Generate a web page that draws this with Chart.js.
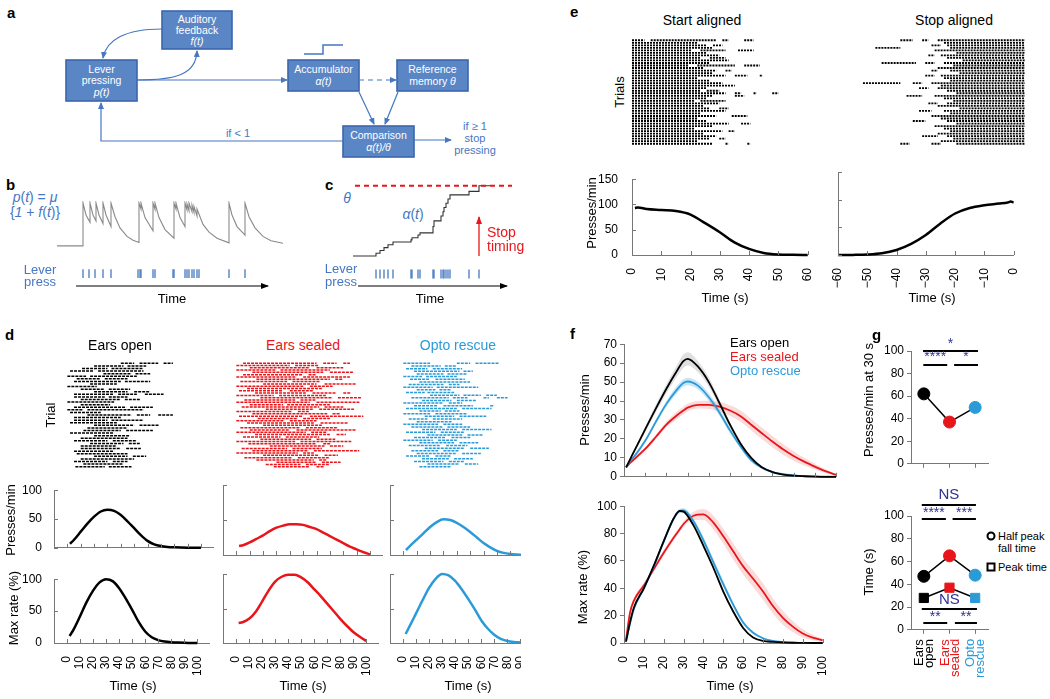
<!DOCTYPE html>
<html><head><meta charset="utf-8">
<script src="https://cdn.jsdelivr.net/npm/chart.js@4.4.1/dist/chart.umd.min.js"></script>
<style>
body{margin:0;width:1050px;height:699px;position:relative;overflow:hidden;background:#fff;font-family:'Liberation Sans',Arial,sans-serif}
canvas{position:absolute}
.t{position:absolute;white-space:nowrap}
.v{position:absolute;white-space:nowrap;writing-mode:vertical-rl;text-align:end;line-height:10px;font-size:13px;height:46px}
</style></head><body>
<svg width="1050" height="699" style="position:absolute;left:0;top:0" font-family="'Liberation Sans',Arial,sans-serif">
  <defs>
    <marker id="mb" markerUnits="userSpaceOnUse" markerWidth="7" markerHeight="7" refX="6" refY="3.5" orient="auto"><path d="M0,0.5 L7,3.5 L0,6.5 z" fill="#4677c2"/></marker>
    <marker id="mk" markerUnits="userSpaceOnUse" markerWidth="8" markerHeight="8" refX="7" refY="4" orient="auto"><path d="M0,1 L8,4 L0,7 z" fill="#000"/></marker>
    <marker id="mr" markerUnits="userSpaceOnUse" markerWidth="8" markerHeight="8" refX="7" refY="4" orient="auto"><path d="M0,1 L8,4 L0,7 z" fill="#e8161b"/></marker>
  </defs>
  <g fill="#5b86c6" stroke="#3b66ad" stroke-width="1.6">
    <rect x="162" y="11" width="70" height="38"/>
    <rect x="66" y="60" width="71" height="41"/>
    <rect x="288" y="60" width="71" height="31"/>
    <rect x="397" y="60" width="71" height="31"/>
    <rect x="343" y="126" width="71" height="31"/>
  </g>
  <g fill="#fff" font-size="10.5" text-anchor="middle" dominant-baseline="middle">
    <text x="197" y="20">Auditory</text><text x="197" y="31">feedback</text><text x="197" y="42" font-style="italic">f(t)</text>
    <text x="101.5" y="70">Lever</text><text x="101.5" y="81">pressing</text><text x="101.5" y="93" font-style="italic">p(t)</text>
    <text x="323.5" y="70">Accumulator</text><text x="323.5" y="82" font-style="italic">α(t)</text>
    <text x="432.5" y="70">Reference</text><text x="432.5" y="82">memory <tspan font-style="italic">θ</tspan></text>
    <text x="378.5" y="136">Comparison</text><text x="378.5" y="148" font-style="italic">α(t)/θ</text>
  </g>
  <g fill="none" stroke="#4677c2" stroke-width="1.2">
    <polyline points="304,54 323,54 323,45 343,45" stroke-width="1.5"/>
    <path d="M162,29 C125,29 106,40 103,58" marker-end="url(#mb)"/>
    <path d="M137,80 C175,80 196,75 197,51" marker-end="url(#mb)"/>
    <line x1="137" y1="80" x2="287" y2="80" marker-end="url(#mb)"/>
    <line x1="359" y1="80" x2="396" y2="80" stroke-dasharray="5,4" marker-end="url(#mb)"/>
    <line x1="359" y1="92" x2="374" y2="124" marker-end="url(#mb)"/>
    <line x1="398" y1="92" x2="385" y2="124" marker-end="url(#mb)"/>
    <polyline points="343,141 101,141 101,103" marker-end="url(#mb)"/>
    <line x1="414" y1="140" x2="451" y2="140" marker-end="url(#mb)"/>
  </g>
  <g fill="#4677c2" font-size="11" text-anchor="middle" dominant-baseline="middle">
    <text x="238" y="134">if &lt; 1</text>
    <text x="475" y="127">if ≥ 1</text><text x="475" y="139">stop</text><text x="475" y="151">pressing</text>
  </g>
  <g fill="#4677c2" font-size="14" text-anchor="middle">
    <text x="35" y="202"><tspan font-style="italic">p</tspan>(<tspan font-style="italic">t</tspan>) = <tspan font-style="italic">μ</tspan></text>
    <text x="35" y="217">{<tspan font-style="italic">1</tspan> + <tspan font-style="italic">f</tspan>(<tspan font-style="italic">t</tspan>)}</text>
    <text x="347" y="203" font-style="italic">θ</text>
    <text x="413" y="219"><tspan font-style="italic">α</tspan>(<tspan font-style="italic">t</tspan>)</text>
  </g>
  <line x1="76" y1="286" x2="268" y2="286" stroke="#000" stroke-width="1.2" marker-end="url(#mk)"/>
  <line x1="358" y1="286" x2="507" y2="286" stroke="#000" stroke-width="1.2" marker-end="url(#mk)"/>
  <line x1="479" y1="256" x2="479" y2="217" stroke="#e8161b" stroke-width="1.3" marker-end="url(#mr)"/>
</svg>
<div id="dwrap" style="position:absolute;left:0;top:0;width:521px;height:699px;overflow:hidden"></div>
<script>
// ---- panel b / c schematic ----
const bCurve = [[0,0],[26,0],[26,1],[29,0.72],[33,0.55],[33,1],[36,0.72],[39,0.58],[39,1],[42,0.72],[46,0.52],[46,1],[49,0.72],[54,0.45],[54,1],[58,0.68],[63,0.42],[70,0.22],[76,0.13],[82,0.08],[82,1],[84,0.86],[84,1],[88,0.66],[96,0.35],[96,1],[98,0.85],[98,1],[102,0.66],[108,0.38],[117,0.18],[117,1],[119,0.86],[119,1],[123,0.66],[128,0.45],[128,1],[130,0.84],[130,0.98],[132,0.82],[132,1],[135,0.8],[135,0.95],[137,0.78],[137,0.92],[140,0.7],[140,0.86],[146,0.5],[152,0.32],[160,0.18],[172,0.07],[172,1],[175,0.72],[180,0.45],[188,0.25],[188,1],[192,0.68],[198,0.42],[206,0.22],[214,0.12],[226,0.06]];
const bPress = [26,32,38,46,54,81,83,84,96,98,116,117,128,130,132,135,137,140,142,172,188];
const cPress = [21,25,29,33,38,56,57,63,65,78,79,86,88,89,91,93,95,114,124];
const cAlpha = [0.04,0.08,0.12,0.16,0.2,0.23,0.26,0.3,0.33,0.42,0.5,0.57,0.63,0.69,0.75,0.81,0.87,0.92,1.0];

// ---- panel d ----
const dTime = [2,5,10,15,20,25,30,35,40,45,50,55,60,65,70,75,80,85,90,95,100];
const dOpenRate = [7,14,28,42,54,63,66,64,57,46,34,22,12,6,3,1.5,0.8,0.4,0.2,0.1,0];
const dSealedRate = [13,14,18,23,28,34,39,42,44,44,43,40,37,32,27,22,17,12,8,4,1];
const dOptoRate = [7,13,22,31,40,47,51,50,46,40,33,25,17,11,6,3,1.5,0.8,0.4,0.2,0];
const dOpenMax = [11,21,42,64,82,95,100,97,86,70,52,33,18,9,4.5,2.3,1.2,0.6,0.3,0.15,0];
const dSealedMax = [29,30,35,45,60,76,89,96,99,99,95,88,78,68,57,46,35,25,16,9,3];
const dOptoMax = [13,24,43,62,80,93,100,98,90,78,64,49,33,21,12,6,3,1.5,0.8,0.3,0];
const dTimeTicks = [0,10,20,30,40,50,60,70,80,90,100];
const dYTicks = [0,50,100];
const dOpenRows = [[[40,50],[54,68],[72,79]],[[20,42],[45,59]],[[11,30],[33,57]],[[2,20],[23,57]],[[27,48],[51,62]],[[0,14],[17,52]],[[7,25],[28,45]],[[5,40],[43,62]],[[17,37]],[[0,22]],[[10,28],[31,47]],[[20,45],[50,62]],[[5,35],[38,52],[58,72]],[[5,28],[31,45]],[[10,40],[43,55]],[[0,35]],[[10,32]],[[5,44],[47,64]],[[0,12],[15,57]],[[2,25]],[[15,48],[52,62],[68,79]],[[5,40]],[[5,30],[33,57]],[[2,37]],[[20,50],[54,69]],[[15,45]],[[12,40],[44,64]],[[2,35]],[[20,47]],[[10,45]],[[5,30],[34,52]],[[17,42],[46,55]],[[10,37]],[[10,40],[44,55]],[[5,35]],[[7,45]],[[20,45],[49,59]],[[10,50]],[[5,30],[34,45]],[[12,42]],[[6,28],[31,48]]];
const dSealedRows = [[[5,60],[65,75],[80,85]],[[0,40],[44,62]],[[10,55],[60,80]],[[0,30],[33,70]],[[12,65],[70,88]],[[5,50],[54,60]],[[0,45],[50,85]],[[15,70],[74,80]],[[3,38],[42,63]],[[20,60],[66,90]],[[0,50],[55,72]],[[8,64]],[[2,35],[40,58]],[[14,52],[57,75],[80,86]],[[0,28],[32,67]],[[18,72],[76,94]],[[6,44],[48,60]],[[0,55],[60,92]],[[10,35],[38,70]],[[4,62],[66,80]],[[22,58],[62,88]],[[0,42],[46,55]],[[12,68],[72,78]],[[2,50],[55,95]],[[16,46],[50,70]],[[0,36],[40,60]],[[8,58],[63,84]],[[20,64]],[[3,48],[52,76]],[[10,40],[45,90]],[[0,52],[56,68]],[[14,70],[75,82]],[[5,33],[37,62]],[[18,56],[60,74]],[[0,44],[48,86]],[[9,60],[65,71]],[[25,66],[70,80]],[[4,38],[42,64]],[[12,54],[58,92]],[[0,46],[50,58]],[[20,62],[66,76]],[[6,42],[46,70]],[[15,58],[62,68]],[[30,60],[64,78]],[[22,48],[52,70]],[[28,55],[60,66]]];
const dOptoRows = [[[0,20],[40,50],[54,72]],[[6,28],[31,40]],[[2,18],[22,44]],[[8,42],[45,52]],[[10,30],[33,48]],[[0,14],[17,40]],[[5,20],[24,46]],[[12,50]],[[4,30],[34,42]],[[0,22],[25,56]],[[10,24],[27,36]],[[2,16],[18,38]],[[20,42],[45,58],[62,70]],[[6,34],[37,48],[60,64],[70,78]],[[14,36],[40,55]],[[0,30],[34,44]],[[8,26],[30,52],[65,68]],[[2,40],[44,66]],[[12,28],[31,42]],[[0,20],[24,48]],[[16,38],[42,62]],[[4,18],[22,44]],[[10,36]],[[0,26],[30,44]],[[6,30],[33,50]],[[14,40],[44,66]],[[2,24],[28,46]],[[18,44],[48,60]],[[8,32],[36,50]],[[0,22],[26,40]],[[12,38],[42,56]],[[4,28],[32,48]],[[16,46],[50,64]],[[6,26],[30,42]],[[10,40],[44,58]],[[2,20],[24,36]],[[14,34],[38,52]],[[8,30],[34,46]],[[18,42],[46,56]],[[12,36]]];

// ---- panel e ----
const eStartT = [1,2,5,10,15,20,25,30,35,40,45,50,55,60];
const eStartV = [93,94,91,89,87,80,63,45,25,12,4,1,0.3,0];
const eStopT = [-60,-55,-50,-45,-40,-35,-30,-25,-20,-15,-10,-5,-2,-1,0];
const eStopV = [0,0.2,0.8,3,9,20,36,57,75,85,90,93,95,96.5,95];
const eStartRows = [[[0,4],[6,27],[29,31],[36,39]],[[0,21]],[[0,24],[26,29]],[[0,26]],[[0,19],[22,30],[34,39]],[[0,24]],[[0,28]],[[0,22],[25,30]],[[0,31]],[[0,25]],[[0,18],[21,33],[36,41]],[[0,23]],[[0,27],[30,32]],[[0,26]],[[0,30],[33,37],[41,42]],[[0,21]],[[0,25]],[[0,29]],[[0,33]],[[0,24]],[[0,22],[24,28]],[[0,30],[33,35],[39,40],[45,47]],[[0,26],[33,36]],[[0,24]],[[0,20],[22,30]],[[0,28]],[[0,23]],[[0,25],[28,31]],[[0,30]],[[0,22]],[[0,27],[32,37]],[[0,21]],[[0,24]],[[0,31],[35,38]],[[0,26]],[[0,20]],[[0,29],[31,33]],[[0,23]],[[0,27]],[[0,25],[28,30]],[[0,21]],[[0,26],[30,31],[37,38]]];
const eStopRows = [[[-40,-36],[-33,-31],[-28,0]],[[-26,0]],[[-30,-27],[-25,0]],[[-48,-40],[-24,0]],[[-29,0]],[[-22,0]],[[-31,-29],[-27,0]],[[-25,0]],[[-20,0]],[[-46,-35],[-32,-29],[-26,0]],[[-23,0]],[[-28,0]],[[-30,-28],[-24,0]],[[-21,0]],[[-32,-29],[-27,0]],[[-26,0]],[[-24,0]],[[-52,-40],[-36,-33],[-30,0]],[[-27,0]],[[-34,-31],[-28,0]],[[-25,0]],[[-22,0]],[[-38,-33],[-29,0]],[[-26,0]],[[-23,0]],[[-31,-28],[-25,0]],[[-28,0]],[[-21,0]],[[-34,-30],[-26,0]],[[-24,0]],[[-30,0]],[[-27,0]],[[-36,-32],[-25,0]],[[-22,0]],[[-29,0]],[[-26,0]],[[-24,0]],[[-28,0]],[[-33,-28],[-25,0]],[[-23,0]],[[-27,0]],[[-40,-37],[-30,-27],[-22,0]]];

// ---- panel f ----
const fTime = [1,3,5,10,15,20,25,28,30,35,40,45,50,55,60,65,70,75,80,85,90,95,100];
const fOpen = [5,9.5,14,25,36,46.5,56,61,62.3,58,50,39,27.5,17.5,10,5,2.5,1.2,0.6,0.3,0.1,0,0];
const fSealed = [5,7.5,9.5,14.7,21,27.6,32.5,35,36.5,38,38,37,35,32,27.5,23,18.6,14.5,11,8,5.4,3,1];
const fOpto = [5,8.5,11,19,29,38.5,46,49.5,50.3,48,42,34,24.5,16,8.8,4.9,2.5,1.4,0.8,0.4,0.2,0.1,0];
const fOpenSem = [0.5,0.8,1,1.5,2,2.5,3,3.5,3.5,3,2.5,2,1.5,1,0.8,0.5,0.4,0.3,0.2,0.1,0.1,0,0];
const fSealedSem = [0.5,0.8,1,1,1.2,1.5,2,2,2,2,2.2,2.5,2.8,3,3,3,3,2.8,2.5,2,1.5,1,0.5];
const fOptoSem = [0.5,0.8,1,1,1.2,1.5,2,2,2,2,2,1.8,1.5,1.2,1,0.8,0.5,0.4,0.3,0.2,0.1,0.1,0];
const fOpenMax = [1,15,26,40,56.5,74.5,91,96.5,96,86,71,55,37.6,23,11,4,1.5,0.8,0.4,0.2,0.1,0,0];
const fSealedMax = [2,22,31,42,54,66,77,83,87,93,94,88,78,67,56,47,37.6,27,18.4,12,7,4,2];
const fOptoMax = [1,14,25,40,56,74,91,96.5,97,89,75,59,43,28,15,7.5,3.5,1.5,0.7,0.3,0.1,0,0];
const fOpenMaxSem = [0.5,1,1,1,1,1,1,1,1,1.5,1.5,1.5,1.5,1,1,0.5,0.5,0.3,0.2,0.1,0,0,0];
const fSealedMaxSem = [0.5,2,2,2,2,2,2,2,2,3,4,5,5.5,6,6,6,6,5.5,5,4,3,2,1];
const fOptoMaxSem = [0.5,1.5,1.5,1.5,1.5,1.5,1.5,1.5,1.5,2,2.5,2.5,2.5,2,1.5,1,0.6,0.4,0.2,0.1,0,0,0];

// ---- panel g ----
const gCats = [['Ears','open'],['Ears','sealed'],['Opto','rescue']];
const gRate30 = [62,37,50];
const gRate30Err = [4,1.5,1.5];
const gHalfFall = [47,65,48];
const gHalfFallErr = [1.5,2,1.5];
const gPeak = [28,37,28];
const gPeakErr = [1,1.5,1];

const BLACK = '#000', RED = '#e8161b', BLUE = '#2b9bd8', NAVY = '#2e3192', AXIS = '#777';
const gColors = [BLACK, RED, BLUE];

Chart.defaults.font.family = "'Liberation Sans', Arial, sans-serif";
Chart.defaults.font.size = 12;
Chart.defaults.color = '#000';

const zip = (xs, ys) => xs.map((x, i) => ({x, y: ys[i]}));
const pairs = arr => arr.map(p => ({x: p[0], y: p[1]}));
function rasterPts(rows) {
  const out = [];
  rows.forEach((segs, i) => segs.forEach(([s, e]) => out.push({x: s, y: i}, {x: e, y: i}, {x: e, y: null})));
  return out;
}
const tk = arr => s => { s.ticks = arr.map(v => ({value: v})); };

// inward tick marks
const inTicks = {
  id: 'inTicks',
  afterDatasetsDraw(chart, args, o) {
    if (!o || (!o.x && !o.y)) return;
    const {ctx, chartArea: a} = chart;
    ctx.save(); ctx.strokeStyle = AXIS; ctx.lineWidth = 1; ctx.beginPath();
    if (o.x) chart.scales.x.ticks.forEach(t => { const p = Math.round(chart.scales.x.getPixelForValue(t.value)) + 0.5; ctx.moveTo(p, a.bottom); ctx.lineTo(p, a.bottom - o.x); });
    if (o.y) chart.scales.y.ticks.forEach(t => { const p = Math.round(chart.scales.y.getPixelForValue(t.value)) + 0.5; ctx.moveTo(a.left, p); ctx.lineTo(a.left + o.y, p); });
    ctx.stroke(); ctx.restore();
  }
};
const errBars = {
  id: 'errBars',
  beforeDatasetsDraw(chart) {
    const ctx = chart.ctx, ys = chart.scales.y;
    chart.data.datasets.forEach((ds, di) => {
      if (!ds.err) return;
      ctx.save(); ctx.strokeStyle = '#000'; ctx.lineWidth = 1.5;
      chart.getDatasetMeta(di).data.forEach((el, i) => {
        const v = ds.data[i].y;
        ctx.beginPath(); ctx.moveTo(el.x, ys.getPixelForValue(v - ds.err[i])); ctx.lineTo(el.x, ys.getPixelForValue(v + ds.err[i])); ctx.stroke();
      });
      ctx.restore();
    });
  }
};
const sigBars = {
  id: 'sigBars',
  afterDraw(chart, args, o) {
    if (!o || !o.items) return;
    const {ctx, scales: {x, y}} = chart;
    ctx.save();
    o.items.forEach(it => {
      if (it.y != null) {
        const py = Math.round(y.getPixelForValue(it.y));
        ctx.strokeStyle = '#000'; ctx.lineWidth = 2; ctx.beginPath();
        ctx.moveTo(x.getPixelForValue(it.x0), py); ctx.lineTo(x.getPixelForValue(it.x1), py); ctx.stroke();
      }
      ctx.fillStyle = NAVY; ctx.font = (it.size || 14) + "px 'Liberation Sans', Arial"; ctx.textAlign = 'center'; ctx.textBaseline = 'middle';
      ctx.fillText(it.label, x.getPixelForValue((it.x0 + it.x1) / 2), y.getPixelForValue(it.ly));
    });
    ctx.restore();
  }
};
Chart.register(inTicks, errBars, sigBars);

function mk(parent, area, m, cfg) {
  const c = document.createElement('canvas');
  const W = area.w + m.l + m.r, H = area.h + m.t + m.b;
  c.width = W; c.height = H;
  c.style.cssText = `left:${area.x - m.l}px;top:${area.y - m.t}px;width:${W}px;height:${H}px`;
  parent.appendChild(c);
  const o = cfg.options;
  o.responsive = false; o.animation = false; o.events = [];
  o.layout = {autoPadding: false, padding: {top: m.t, right: m.r, left: 0, bottom: 0}};
  const sx = o.scales.x, sy = o.scales.y;
  if (sy.display === false) o.layout.padding.left = m.l; else sy.afterFit = s => { s.width = m.l; };
  if (sx.display === false) o.layout.padding.bottom = m.b; else sx.afterFit = s => { s.height = m.b; };
  o.plugins = Object.assign({legend: {display: false}, tooltip: {enabled: false}}, o.plugins || {});
  const ch = new Chart(c, cfg);
  ch.offsetX = area.x - m.l; ch.offsetY = area.y - m.t;
  return ch;
}
function T(s, x, y, o = {}) {
  const d = document.createElement('div');
  d.className = 't';
  d.textContent = s;
  const sz = o.size || 13;
  const base = o.a === 'l' ? 'translate(0,-50%)' : o.a === 'r' ? 'translate(-100%,-50%)' : 'translate(-50%,-50%)';
  d.style.cssText = `left:${x}px;top:${y}px;height:${sz}px;line-height:${sz}px;transform:${base}${o.rot ? ' rotate(-90deg)' : ''};font-size:${sz}px;color:${o.color || '#000'};${o.b ? 'font-weight:bold;' : ''}${o.i ? 'font-style:italic;' : ''}`;
  document.body.appendChild(d);
}
const body = document.body, dwrap = document.getElementById('dwrap');
const line = (data, color, w, extra) => Object.assign({data, showLine: true, borderColor: color, backgroundColor: color, borderWidth: w, pointRadius: 0, cubicInterpolationMode: 'monotone', clip: false}, extra || {});

// ---------- b ----------
mk(body, {x: 57, y: 203, w: 226, h: 75}, {l: 2, r: 2, t: 2, b: 2}, {
  type: 'scatter',
  data: {datasets: [
    line(pairs(bCurve), '#8a8a8a', 1.1, {cubicInterpolationMode: 'default', tension: 0}),
    {data: bPress.map(x => ({x, y: -0.65})), pointStyle: 'line', rotation: 90, radius: 4.5, borderColor: '#4677c2', borderWidth: 1.3}
  ]},
  options: {scales: {x: {display: false, min: 0, max: 226}, y: {display: false, min: -0.75, max: 1}}}
});
// ---------- c ----------
mk(body, {x: 355, y: 185, w: 157, h: 95}, {l: 2, r: 2, t: 2, b: 2}, {
  type: 'scatter',
  data: {datasets: [
    line([{x: 0, y: 1}, {x: 157, y: 1}], RED, 2, {borderDash: [5, 4]}),
    line([{x: -2, y: 0}].concat(zip(cPress, cAlpha), [{x: 135, y: 1}]), '#333', 1.1, {stepped: true}),
    {data: cPress.map(x => ({x, y: -0.256})), pointStyle: 'line', rotation: 90, radius: 4.5, borderColor: '#4677c2', borderWidth: 1.3}
  ]},
  options: {scales: {x: {display: false, min: 0, max: 157}, y: {display: false, min: -0.34, max: 1.01}}}
});

// ---------- d ----------
const dCols = [
  {x: 54, color: BLACK, rows: dOpenRows, rate: dOpenRate, max: dOpenMax},
  {x: 223, color: RED, rows: dSealedRows, rate: dSealedRate, max: dSealedMax},
  {x: 390, color: BLUE, rows: dOptoRows, rate: dOptoRate, max: dOptoMax}
];
const dScales = (showX, showY) => ({
  x: {min: -10, max: 109, afterBuildTicks: tk(dTimeTicks), grid: {display: false}, border: {color: AXIS},
      ticks: {display: showX, minRotation: 90, maxRotation: 90, padding: 5, autoSkip: false}},
  y: {min: 0, max: 100, afterBuildTicks: tk(dYTicks), grid: {display: false}, border: {color: AXIS},
      ticks: {display: showY, padding: 4}}
});
dCols.forEach((col, i) => {
  mk(dwrap, {x: col.x, y: 362, w: 159, h: 106}, {l: 0, r: 0, t: 2, b: 2}, {
    type: 'scatter',
    data: {datasets: [line(rasterPts(col.rows), col.color, 1.5, {cubicInterpolationMode: 'default', borderDash: [3, 1]})]},
    options: {scales: {x: {display: false, min: -10, max: 109}, y: {display: false, min: -0.5, max: col.rows.length - 0.5, reverse: true}}}
  });
  mk(dwrap, {x: col.x, y: 485, w: 159, h: 70}, {l: 32, r: 4, t: 6, b: 4}, {
    type: 'scatter',
    data: {datasets: [line(zip(dTime, col.rate), col.color, 2.5)]},
    options: {scales: dScales(false, i === 0), plugins: {inTicks: {x: 4, y: 4}}}
  });
  mk(dwrap, {x: col.x, y: 574, w: 159, h: 69}, {l: 32, r: 4, t: 6, b: 40}, {
    type: 'scatter',
    data: {datasets: [line(zip(dTime, col.max), col.color, 2.5)]},
    options: {scales: dScales(true, i === 0), plugins: {inTicks: {x: 4, y: 4}}}
  });
});

// ---------- e ----------
const minus = v => v < 0 ? '\u2212' + (-v) : String(v);
[[632, eStartRows, 0, 60], [838, eStopRows, -60, 0]].forEach(([x, rows, lo, hi]) => {
  mk(body, {x, y: 39, w: 187, h: 106}, {l: 0, r: 0, t: 2, b: 2}, {
    type: 'scatter',
    data: {datasets: [line(rasterPts(rows), BLACK, 1.8, {cubicInterpolationMode: 'default', borderDash: [2, 1]})]},
    options: {scales: {x: {display: false, min: lo, max: hi}, y: {display: false, min: -0.5, max: rows.length - 0.5, reverse: true}}}
  });
});
[[632, eStartT, eStartV, 0, 60, true], [838, eStopT, eStopV, -60, 0, false]].forEach(([x, ts, vs, lo, hi, showY]) => {
  mk(body, {x, y: 172, w: 187, h: 83}, {l: showY ? 36 : 8, r: 8, t: 6, b: 36}, {
    type: 'scatter',
    data: {datasets: [line(zip(ts, vs), BLACK, 2.5)]},
    options: {scales: {
      x: {min: lo, max: hi, grid: {display: false}, border: {color: AXIS}, ticks: {stepSize: 10, minRotation: 90, maxRotation: 90, padding: 5, autoSkip: false, callback: minus}},
      y: {min: 0, max: 150, grid: {display: false}, border: {color: AXIS}, ticks: {stepSize: 50, display: showY, padding: 6}}
    }, plugins: {inTicks: {x: 4, y: 4}}}
  });
});

// ---------- f ----------
const band = (ys, sem, col) => [
  line(ys.map((v, i) => ({x: fTime[i], y: v + sem[i]})), col, 0, {fill: '+1', backgroundColor: col}),
  line(ys.map((v, i) => ({x: fTime[i], y: Math.max(0, v - sem[i])})), col, 0, {fill: false})
];
const fScales = (yMax, yStep, showX) => ({
  x: {min: 0, max: 100, grid: {display: false}, border: {color: AXIS}, ticks: {display: showX, stepSize: 10, minRotation: 90, maxRotation: 90, padding: 5, autoSkip: false}},
  y: {min: 0, max: yMax, grid: {display: true, drawOnChartArea: false, tickLength: 4, color: AXIS}, border: {color: AXIS}, ticks: {stepSize: yStep, padding: 3}}
});
mk(body, {x: 624, y: 340, w: 212, h: 143}, {l: 34, r: 6, t: 6, b: 4}, {
  type: 'scatter',
  data: {datasets: [
    line(zip(fTime, fOpen), BLACK, 1.8), line(zip(fTime, fOpto), BLUE, 1.8), line(zip(fTime, fSealed), RED, 1.8),
    ...band(fOpen, fOpenSem, 'rgba(0,0,0,0.12)'), ...band(fOpto, fOptoSem, 'rgba(43,155,216,0.25)'), ...band(fSealed, fSealedSem, 'rgba(232,22,27,0.16)')
  ]},
  options: {scales: fScales(70, 10, false), plugins: {inTicks: {x: 4}, filler: {propagate: false}}}
});
mk(body, {x: 624, y: 502, w: 212, h: 141}, {l: 34, r: 6, t: 6, b: 38}, {
  type: 'scatter',
  data: {datasets: [
    line(zip(fTime, fOpenMax), BLACK, 1.8), line(zip(fTime, fOptoMax), BLUE, 1.8), line(zip(fTime, fSealedMax), RED, 1.8),
    ...band(fOpenMax, fOpenMaxSem, 'rgba(0,0,0,0.12)'), ...band(fOptoMax, fOptoMaxSem, 'rgba(43,155,216,0.25)'), ...band(fSealedMax, fSealedMaxSem, 'rgba(232,22,27,0.16)')
  ]},
  options: {scales: fScales(100, 20, true), plugins: {inTicks: {x: 4}, filler: {propagate: false}}}
});

// ---------- g ----------
const gX = [0, 1, 2];
const gScales = () => ({
  x: {min: -0.5, max: 2.5, afterBuildTicks: tk(gX), grid: {display: true, drawOnChartArea: false, tickLength: 4, color: AXIS}, border: {color: AXIS}, ticks: {display: false}},
  y: {min: 0, max: 100, grid: {display: true, drawOnChartArea: false, tickLength: 4, color: AXIS}, border: {color: AXIS}, ticks: {stepSize: 20, padding: 3}}
});
const gDs = (ys, err, style, r) => line(zip(gX, ys), BLACK, 1.5, {cubicInterpolationMode: 'default', err, pointRadius: r, pointStyle: style, pointBackgroundColor: gColors, pointBorderColor: gColors, pointBorderWidth: 1});
mk(body, {x: 911, y: 351, w: 77, h: 115}, {l: 30, r: 6, t: 20, b: 8}, {
  type: 'scatter',
  data: {datasets: [gDs(gRate30, gRate30Err, 'circle', 6)]},
  options: {scales: gScales(), plugins: {sigBars: {items: [
    {x0: -0.03, x1: 2.11, y: 100, label: '*', ly: 106.5},
    {x0: -0.02, x1: 0.91, y: 88, label: '****', ly: 94.5},
    {x0: 1.18, x1: 2.11, y: 88, label: '*', ly: 94.5}
  ]}}}
});
const gBottom = mk(body, {x: 911, y: 516, w: 77, h: 116}, {l: 30, r: 6, t: 30, b: 8}, {
  type: 'scatter',
  data: {datasets: [gDs(gHalfFall, gHalfFallErr, 'circle', 6), gDs(gPeak, gPeakErr, 'rect', 6.5)]},
  options: {scales: gScales(), plugins: {sigBars: {items: [
    {x0: -0.08, x1: 2.03, y: 109.5, label: 'NS', ly: 119, size: 15},
    {x0: -0.08, x1: 0.86, y: 97.2, label: '****', ly: 102.5},
    {x0: 1.12, x1: 2.03, y: 97.2, label: '***', ly: 102.5},
    {x0: -0.08, x1: 2.07, y: 18.4, label: 'NS', ly: 26.5, size: 15},
    {x0: -0.02, x1: 0.91, y: 6, label: '**', ly: 11.5},
    {x0: 1.21, x1: 2.07, y: 6, label: '**', ly: 11.5}
  ]}}}
});
// category labels under g, placed on the chart's own x scale
gCats.forEach((lab, i) => {
  const d = document.createElement('div');
  d.className = 'v';
  d.innerHTML = lab.join('<br>');
  const px = gBottom.offsetX + gBottom.scales.x.getPixelForValue(i);
  d.style.cssText = `left:${px}px;top:639px;transform:translate(-50%,0) rotate(180deg);color:${gColors[i]}`;
  body.appendChild(d);
});

// ---------- text ----------
T('a', 7, 12, {a: 'l', b: true, size: 15});
T('b', 6, 184, {a: 'l', b: true, size: 15});
T('c', 325, 184, {a: 'l', b: true, size: 15});
T('d', 5, 334, {a: 'l', b: true, size: 15});
T('e', 570, 11, {a: 'l', b: true, size: 15});
T('f', 570, 333, {a: 'l', b: true, size: 15});
T('g', 872, 334, {a: 'l', b: true, size: 15});

const SB = '#4677c2';
T('Lever', 40, 269, {color: SB}); T('press', 40, 281, {color: SB});
T('Time', 172, 298);
T('Stop', 487, 232, {a: 'l', size: 14, color: RED});
T('timing', 487, 246, {a: 'l', size: 14, color: RED});
T('Lever', 341, 268, {color: SB}); T('press', 341, 281, {color: SB});
T('Time', 430, 298);

T('Ears open', 120, 345, {size: 14});
T('Ears sealed', 303, 345, {size: 14, color: RED});
T('Opto rescue', 458, 345, {size: 14, color: BLUE});
T('Trial', 50, 415, {rot: true});
T('Presses/min', 10, 520, {rot: true});
T('Max rate (%)', 13, 608, {rot: true});
T('Time (s)', 133, 685); T('Time (s)', 303, 685); T('Time (s)', 468, 685);

T('Start aligned', 702, 20, {size: 14});
T('Stop aligned', 954, 20, {size: 14});
T('Trials', 619, 92, {rot: true});
T('Presses/min', 591, 213, {rot: true});
T('Time (s)', 725, 297); T('Time (s)', 932, 297);

T('Presses/min', 584, 410, {rot: true});
T('Max rate (%)', 582, 587, {rot: true});
T('Time (s)', 730, 685);
T('Ears open', 730, 342, {a: 'l'});
T('Ears sealed', 730, 356, {a: 'l', color: RED});
T('Opto rescue', 730, 370, {a: 'l', color: BLUE});

T('Presses/min at 30 s', 868, 400, {rot: true});
T('Time (s)', 868, 572, {rot: true});
T('Half peak', 998, 536, {a: 'l', size: 11});
T('fall time', 998, 548, {a: 'l', size: 11});
T('Peak time', 998, 567, {a: 'l', size: 11});
const lg = document.createElementNS('http://www.w3.org/2000/svg', 'g');
lg.innerHTML = '<circle cx="991" cy="536" r="3.5" fill="#fff" stroke="#000" stroke-width="2"/><rect x="987.5" y="563.5" width="7" height="7" fill="#fff" stroke="#000" stroke-width="2"/>';
document.querySelector('svg').appendChild(lg);
</script>
</body></html>
